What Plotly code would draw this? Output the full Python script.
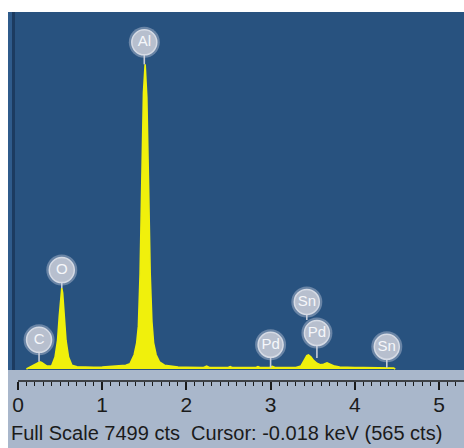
import plotly.graph_objects as go

# ---- spectrum (energy in keV, counts) ----
energy_kev = [
    0.10, 0.13, 0.17, 0.21, 0.24, 0.26, 0.28, 0.31, 0.34, 0.37,
    0.40, 0.44, 0.47, 0.49, 0.51, 0.52, 0.53, 0.55, 0.57, 0.60,
    0.64, 0.70, 0.80, 0.90, 1.00, 1.10, 1.20, 1.28, 1.33, 1.38,
    1.41, 1.43, 1.45, 1.47, 1.49, 1.51, 1.53, 1.55, 1.57, 1.59,
    1.61, 1.64, 1.68, 1.74, 1.82, 1.90, 2.00, 2.10, 2.20, 2.24,
    2.28, 2.40, 2.49, 2.52, 2.55, 2.70, 2.82, 2.85, 2.88, 2.98,
    3.02, 3.06, 3.20, 3.30, 3.36, 3.40, 3.43, 3.45, 3.48, 3.51,
    3.55, 3.59, 3.63, 3.67, 3.71, 3.76, 3.82, 3.90, 4.00, 4.10,
    4.20, 4.30, 4.40, 4.46, 4.48,
]
counts = [
    0, 30, 60, 110, 145, 150, 135, 95, 65, 60,
    70, 250, 600, 1100, 1600, 1700, 1600, 1100, 600, 250,
    80, 45, 35, 35, 40, 55, 65, 80, 110, 300,
    550, 900, 2000, 4000, 5800, 6400, 5700, 3900, 2000, 1000,
    550, 300, 150, 80, 55, 40, 35, 30, 28, 60,
    28, 28, 28, 50, 28, 28, 28, 50, 28, 28,
    55, 28, 28, 30, 60, 170, 280, 294, 250, 180,
    120, 90, 100, 130, 100, 60, 40, 30, 28, 28,
    28, 26, 25, 22, 0,
]

# ---- element markers ----
label_text = ["C", "O", "Al", "Pd", "Sn", "Pd", "Sn"]
label_kev = [0.25, 0.52, 1.50, 3.00, 3.43, 3.55, 4.38]
label_foot = [150, 1700, 6400, 25, 1030, 230, 25]     # counts where each stem lands
label_lift = [22, 18, 22, 23, 18, 25, 21]             # stem + half badge, px

full_scale = 7499
tick_keV = [0, 1, 2, 3, 4, 5]
status_text = "Full Scale 7499 cts\u00a0\u00a0Cursor: -0.018 keV (565 cts)"

# ---- geometry (pixels) ----
W, H = 464, 448
PX_L, PX_R, PX_T, PX_B = 8, 464, 12, 370
PX_ZERO = 18          # 0 keV
PX_PER_KEV = 84.2
PX_BASE = 369         # 0 counts
PX_RULER = 381

cpp = full_scale / (PX_BASE - PX_T)
x_range = [(PX_L - PX_ZERO) / PX_PER_KEV, (PX_R - PX_ZERO) / PX_PER_KEV]
y_range = [-(PX_B - PX_BASE) * cpp, full_scale]
x_dom = [PX_L / W, 1]
y_dom = [1 - PX_B / H, 1 - PX_T / H]

BLUE = "#28527f"
GRAY = "#a9b7cb"
YELLOW = "#f0f00c"
INK = "#1b1b1b"
FONT = "Liberation Sans, Arial, sans-serif"

fig = go.Figure()

fig.add_trace(go.Scatter(
    x=energy_kev, y=counts, mode="lines",
    line=dict(color=YELLOW, width=1.6),
    fill="tozeroy", fillcolor=YELLOW, hoverinfo="skip",
))

# stems
sx, sy, bx, by = [], [], [], []
for k, foot, lift in zip(label_kev, label_foot, label_lift):
    top = foot + lift * cpp
    sx += [k, k, None]
    sy += [foot, top, None]
    bx.append(k)
    by.append(top)

fig.add_trace(go.Scatter(
    x=sx, y=sy, mode="lines",
    line=dict(color="#c6ccd8", width=1.6), hoverinfo="skip",
))
# badge halo
fig.add_trace(go.Scatter(
    x=bx, y=by, mode="markers",
    marker=dict(size=31, color="rgba(205,211,224,0.4)", line=dict(width=0)),
    hoverinfo="skip",
))
# badges
fig.add_trace(go.Scatter(
    x=bx, y=by, mode="markers+text", text=label_text,
    textposition="middle center",
    textfont=dict(family=FONT, size=15, color="#f5f7fb"),
    marker=dict(size=25, color="#b7bfce", line=dict(color="#d6dbe5", width=1.5)),
    hoverinfo="skip",
))

# ruler axis
fig.add_trace(go.Scatter(x=[0], y=[0], xaxis="x2", mode="markers",
                         marker=dict(opacity=0), hoverinfo="skip"))

shapes = [
    # grey panel below the spectrum
    dict(type="rect", xref="paper", yref="paper",
         x0=PX_L / W, x1=1, y0=0, y1=1 - PX_B / H,
         fillcolor=GRAY, line=dict(width=0), layer="below"),
    # blue spectrum window
    dict(type="rect", xref="paper", yref="paper",
         x0=PX_L / W, x1=1, y0=1 - PX_B / H, y1=1 - PX_T / H,
         fillcolor=BLUE, line=dict(width=0), layer="below"),
    # left frame edge
    dict(type="rect", xref="paper", yref="paper",
         x0=PX_L / W, x1=12 / W, y0=1 - PX_B / H, y1=1 - PX_T / H,
         fillcolor="#2f5b8b", line=dict(width=0), layer="below"),
    dict(type="rect", xref="paper", yref="paper",
         x0=12 / W, x1=15 / W, y0=1 - PX_B / H, y1=1 - PX_T / H,
         fillcolor="#1c3b60", line=dict(width=0), layer="below"),
    # ruler line
    dict(type="line", xref="x", yref="paper",
         x0=0, x1=x_range[1], y0=1 - PX_RULER / H, y1=1 - PX_RULER / H,
         line=dict(color=INK, width=1.5)),
]

minor_vals = [i / 10 for i in range(1, 54) if i % 10]

fig.update_layout(
    width=W, height=H,
    margin=dict(l=0, r=0, t=0, b=0),
    paper_bgcolor="white",
    plot_bgcolor="rgba(0,0,0,0)",
    showlegend=False,
    shapes=shapes,
    xaxis=dict(domain=x_dom, range=x_range, visible=False, fixedrange=True),
    yaxis=dict(domain=y_dom, range=y_range, visible=False, fixedrange=True),
    xaxis2=dict(
        overlaying="x", matches="x", anchor="free",
        position=1 - PX_RULER / H, domain=x_dom, range=x_range,
        side="bottom", showline=False, showgrid=False, zeroline=False,
        tickmode="array", tickvals=tick_keV,
        ticktext=[str(v) for v in tick_keV],
        ticks="outside", ticklen=8, tickwidth=1.5, tickcolor=INK,
        ticklabelstandoff=-3,
        tickfont=dict(family=FONT, size=21, color=INK),
        minor=dict(tickmode="array", tickvals=minor_vals, ticks="outside",
                   ticklen=4, tickwidth=1.2, tickcolor=INK),
        fixedrange=True,
    ),
    annotations=[dict(
        xref="paper", yref="paper", x=9 / W, y=1 - 433 / H,
        xanchor="left", yanchor="middle", showarrow=False,
        text=status_text,
        font=dict(family=FONT, size=20, color=INK),
    )],
)

fig.write_html("out.html")
